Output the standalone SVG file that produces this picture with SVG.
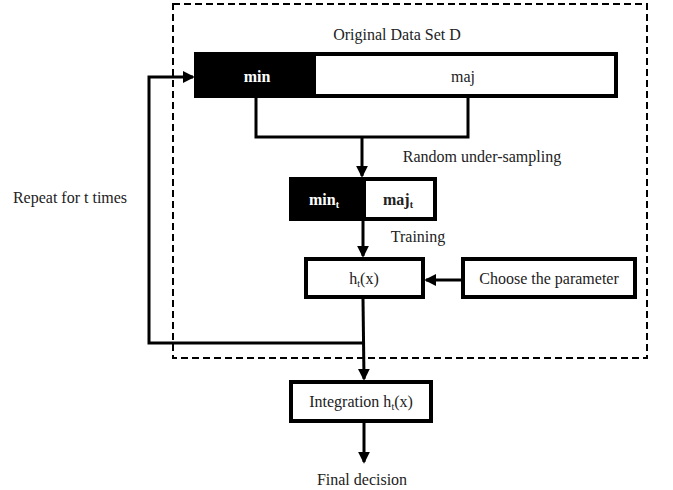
<svg xmlns="http://www.w3.org/2000/svg" width="673" height="490" viewBox="0 0 673 490">
<style>
.t{font-family:'Liberation Serif','Times New Roman',serif;font-size:16px;fill:#222;text-anchor:middle}
.w{fill:#fff;font-weight:bold}
.b{fill:#fff;stroke:#000;stroke-width:4}
.ln{fill:none;stroke:#000;stroke-width:3}
</style>
<defs>
<marker id="ah" markerWidth="4" markerHeight="4" refX="3.4" refY="2" orient="auto" markerUnits="strokeWidth">
<path d="M0,0 L4,2 L0,4 Z" fill="#000"/>
</marker>
</defs>
<rect x="173" y="4" width="474" height="354" fill="none" stroke="#000" stroke-width="2" stroke-dasharray="7,4"/>
<text class="t" x="397" y="40">Original Data Set D</text>
<g id="dataset">
<rect class="b" x="196" y="54" width="420" height="42"/>
<rect x="194" y="52" width="122" height="46" fill="#000"/>
<text class="t w" x="257" y="82">min</text>
<text class="t" x="463" y="82">maj</text>
</g>
<g id="subset">
<rect class="b" x="291" y="179" width="144" height="40"/>
<rect x="289" y="177" width="77" height="44" fill="#000"/>
<text class="t w" x="324" y="205">min<tspan font-size="10" dy="3">t</tspan></text>
<text class="t" x="398" y="205" style="font-weight:bold">maj<tspan font-size="10" dy="3">t</tspan></text>
</g>
<g id="ht">
<rect class="b" x="306" y="259" width="117" height="38"/>
<text class="t" x="364" y="284">h<tspan font-size="10" dy="3">t</tspan><tspan dy="-3">(x)</tspan></text>
</g>
<g id="param">
<rect class="b" x="463" y="259" width="172" height="38"/>
<text class="t" x="549" y="284">Choose the parameter</text>
</g>
<g id="integration">
<rect class="b" x="291" y="382" width="140" height="39"/>
<text class="t" x="361" y="407">Integration h<tspan font-size="10" dy="3">t</tspan><tspan dy="-3">(x)</tspan></text>
</g>
<g id="connectors">
<polyline class="ln" points="256,98 256,137 468,137 468,98"/>
<line class="ln" x1="362" y1="137" x2="362" y2="176" marker-end="url(#ah)"/>
<line class="ln" x1="363" y1="221" x2="363" y2="256" marker-end="url(#ah)"/>
<line class="ln" x1="461" y1="280" x2="426" y2="280" marker-end="url(#ah)"/>
<line class="ln" x1="363" y1="299" x2="364" y2="379" marker-end="url(#ah)"/>
<polyline class="ln" points="364,343 149,343 149,77 193,77" marker-end="url(#ah)"/>
<line class="ln" x1="364" y1="423" x2="364" y2="462" marker-end="url(#ah)"/>
</g>
<text class="t" x="482" y="162">Random under-sampling</text>
<text class="t" x="418" y="242">Training</text>
<text class="t" x="70" y="203">Repeat for t times</text>
<text class="t" x="362" y="485">Final decision</text>
</svg>
